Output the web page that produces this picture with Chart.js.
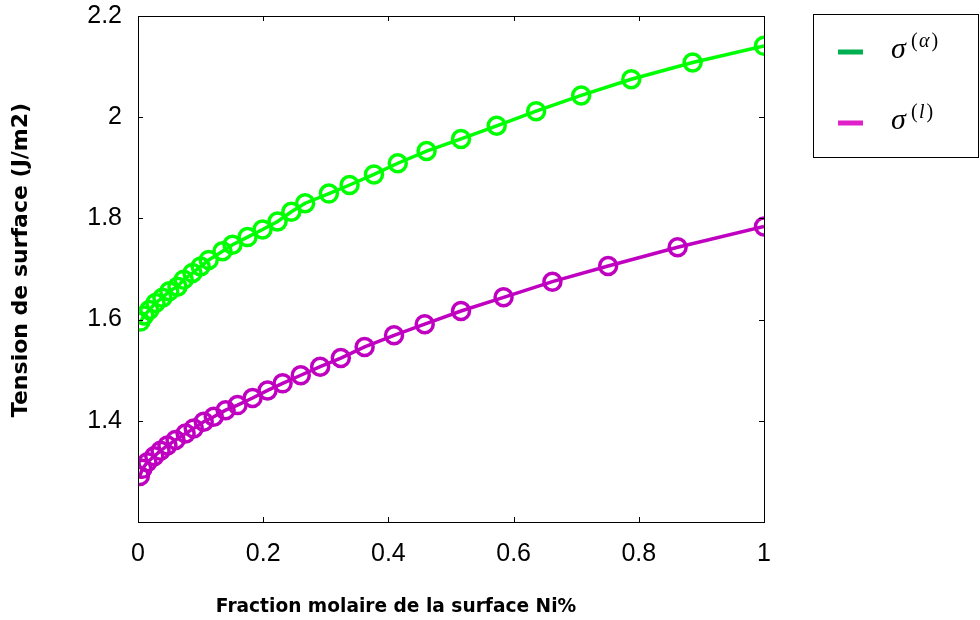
<!DOCTYPE html>
<html>
<head>
<meta charset="utf-8">
<script src="https://cdn.jsdelivr.net/npm/chart.js@4.4.1/dist/chart.umd.min.js"></script>
<style>
    html, body { margin: 0; padding: 0; background: #fff; }
</style>
</head>
<body>
<canvas id="myChart" width="980" height="620"></canvas>
<script>
// surface tension vs Ni surface molar fraction
const alphaX = [0.004, 0.010, 0.018, 0.028, 0.039, 0.050, 0.063, 0.073, 0.087, 0.100, 0.113, 0.135, 0.151, 0.175, 0.199, 0.223, 0.245, 0.267, 0.305, 0.338, 0.377, 0.415, 0.461, 0.516, 0.573, 0.636, 0.708, 0.788, 0.886, 1];
const alphaY = [1.596, 1.608, 1.619, 1.633, 1.643, 1.656, 1.665, 1.679, 1.692, 1.705, 1.718, 1.735, 1.748, 1.763, 1.778, 1.794, 1.813, 1.830, 1.849, 1.866, 1.887, 1.909, 1.933, 1.957, 1.983, 2.012, 2.043, 2.075, 2.108, 2.141];

const liquidX = [0.003, 0.007, 0.015, 0.026, 0.036, 0.047, 0.060, 0.076, 0.089, 0.105, 0.121, 0.140, 0.159, 0.183, 0.207, 0.231, 0.260, 0.291, 0.324, 0.362, 0.409, 0.458, 0.516, 0.584, 0.662, 0.751, 0.862, 1];
const liquidY = [1.291, 1.305, 1.318, 1.330, 1.341, 1.351, 1.362, 1.375, 1.385, 1.398, 1.408, 1.421, 1.431, 1.445, 1.460, 1.474, 1.490, 1.507, 1.524, 1.546, 1.569, 1.591, 1.617, 1.644, 1.675, 1.706, 1.743, 1.784];

const xTicks = [0, 0.2, 0.4, 0.6, 0.8, 1];
const yTicks = [1.2, 1.4, 1.6, 1.8, 2, 2.2];
const phases = ['α', 'l'];
const lineColors = ['#00ff00', '#c000c0'];
const legendColors = ['#00b050', '#e020c8'];
const xLabel = 'Fraction molaire de la surface Ni%';
const yLabel = 'Tension de surface (J/m2)';

const toPoints = (xs, ys) => xs.map((x, i) => ({x: x, y: ys[i]}));

// box around the plot with inward tick marks, matlab style, plus axis labels
const frame = {
    id: 'frame',
    afterDraw(chart) {
        const {ctx, chartArea: a, scales} = chart;
        ctx.save();
        ctx.strokeStyle = '#000';
        ctx.lineWidth = 1;
        ctx.strokeRect(a.left + 0.5, a.top + 0.5, a.right - a.left, a.bottom - a.top);
        ctx.beginPath();
        const len = 5;
        xTicks.forEach(v => {
            const px = Math.round(scales.x.getPixelForValue(v)) + 0.5;
            ctx.moveTo(px, a.bottom); ctx.lineTo(px, a.bottom - len);
            ctx.moveTo(px, a.top); ctx.lineTo(px, a.top + len);
        });
        yTicks.forEach(v => {
            const py = Math.round(scales.y.getPixelForValue(v)) + 0.5;
            ctx.moveTo(a.left, py); ctx.lineTo(a.left + len, py);
            ctx.moveTo(a.right, py); ctx.lineTo(a.right - len, py);
        });
        ctx.stroke();

        ctx.fillStyle = '#000';
        ctx.textAlign = 'center';
        ctx.textBaseline = 'middle';
        ctx.font = 'bold 18.6px "DejaVu Sans", sans-serif';
        ctx.fillText(xLabel, 396, 607);
        ctx.translate(21, 260);
        ctx.rotate(-Math.PI / 2);
        ctx.font = 'bold 22px "DejaVu Sans", sans-serif';
        ctx.fillText(yLabel, 0, 0);
        ctx.restore();
    }
};

// legend with sigma symbols and superscripts
const sigmaLegend = {
    id: 'sigmaLegend',
    afterDraw(chart) {
        const ctx = chart.ctx;
        ctx.save();
        ctx.fillStyle = '#fff';
        ctx.fillRect(813, 14, 165, 143);
        ctx.strokeStyle = '#000';
        ctx.lineWidth = 1;
        ctx.strokeRect(813.5, 14.5, 165, 143);
        phases.forEach((p, i) => {
            const y = 52 + i * 71;
            ctx.strokeStyle = legendColors[i];
            ctx.lineWidth = 5;
            ctx.beginPath();
            ctx.moveTo(838, y);
            ctx.lineTo(863, y);
            ctx.stroke();
            ctx.fillStyle = '#000';
            ctx.textBaseline = 'alphabetic';
            ctx.font = 'italic 30px "Liberation Serif", serif';
            ctx.fillText('σ', 891, y + 6);
            ctx.font = '20px "Liberation Serif", serif';
            ctx.fillText('(', 911, y - 5);
            ctx.font = 'italic 20px "Liberation Serif", serif';
            ctx.fillText(p, 919, y - 5);
            const w = ctx.measureText(p).width;
            ctx.font = '20px "Liberation Serif", serif';
            ctx.fillText(')', 921 + w, y - 5);
        });
        ctx.restore();
    }
};

const tickFont = {family: '"Liberation Sans", Arial, sans-serif', size: 25, lineHeight: 0.6};

new Chart(document.getElementById('myChart'), {
    type: 'scatter',
    data: {
        datasets: [{
            label: 'σ(α)',
            data: toPoints(alphaX, alphaY),
            showLine: true,
            borderColor: lineColors[0],
            backgroundColor: 'rgba(0,0,0,0)',
            borderWidth: 3.5,
            pointRadius: 8.5,
            pointBorderWidth: 3.5,
            pointBorderColor: lineColors[0],
            pointBackgroundColor: 'rgba(0,0,0,0)'
        }, {
            label: 'σ(l)',
            data: toPoints(liquidX, liquidY),
            showLine: true,
            borderColor: lineColors[1],
            backgroundColor: 'rgba(0,0,0,0)',
            borderWidth: 3.5,
            pointRadius: 8.5,
            pointBorderWidth: 3.5,
            pointBorderColor: lineColors[1],
            pointBackgroundColor: 'rgba(0,0,0,0)'
        }]
    },
    options: {
        responsive: false,
        animation: false,
        layout: {
            padding: {left: 0, right: 216, top: 16, bottom: 0}
        },
        plugins: {
            legend: {display: false},
            tooltip: {enabled: false}
        },
        scales: {
            x: {
                type: 'linear',
                min: 0,
                max: 1,
                afterBuildTicks: s => { s.ticks = xTicks.map(v => ({value: v})); },
                afterFit: s => { s.height = 98; },
                grid: {display: false},
                border: {display: false},
                ticks: {
                    color: '#000',
                    font: tickFont,
                    padding: 17,
                    maxRotation: 0,
                    callback: v => String(v)
                }
            },
            y: {
                type: 'linear',
                min: 1.2,
                max: 2.2,
                afterBuildTicks: s => { s.ticks = yTicks.map(v => ({value: v})); },
                afterFit: s => { s.width = 138; },
                grid: {display: false},
                border: {display: false},
                ticks: {
                    color: '#000',
                    font: tickFont,
                    padding: 8,
                    callback: v => v === 1.2 ? '' : String(v)
                }
            }
        }
    },
    plugins: [frame, sigmaLegend]
});
</script>
</body>
</html>
